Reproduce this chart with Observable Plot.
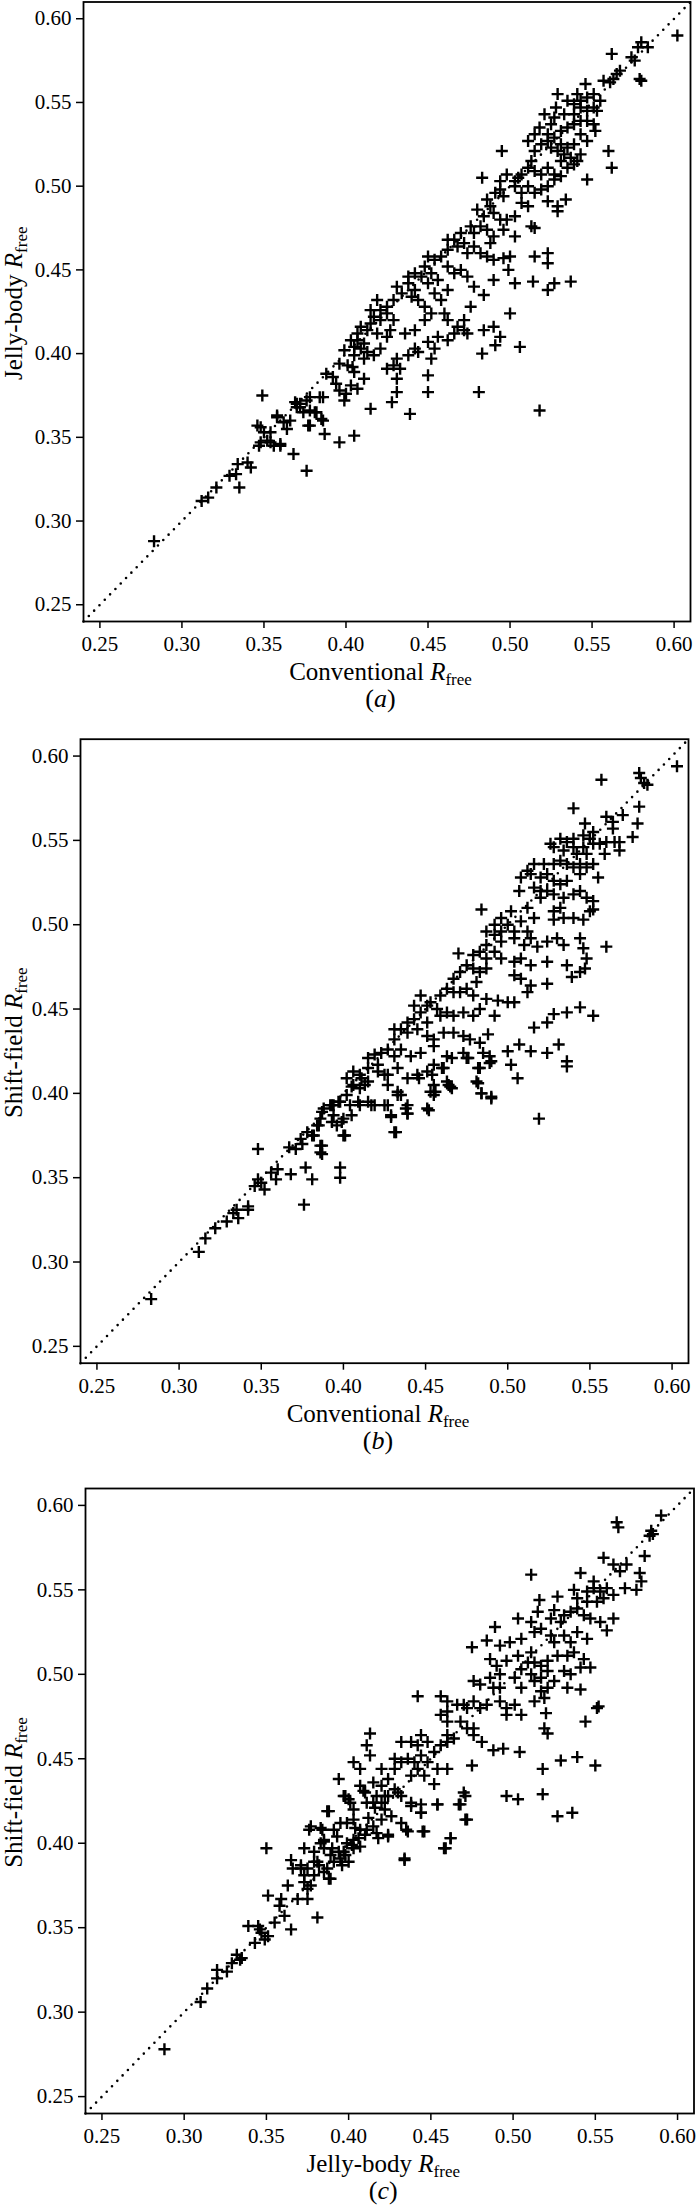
<!DOCTYPE html>
<html>
<head>
<meta charset="utf-8">
<script src="https://cdn.jsdelivr.net/npm/d3@7"></script>
<script src="https://cdn.jsdelivr.net/npm/@observablehq/plot@0.6"></script>
<style>
  html, body { margin: 0; padding: 0; background: #fff; }
  #chart { width: 696px; }
  #chart svg { display: block; }
</style>
</head>
<body>
<div id="chart"></div>
<script>
// ---- tick values ----
const tickValues = [0.25, 0.30, 0.35, 0.40, 0.45, 0.50, 0.55, 0.60];
const axisDomain = [0.24, 0.61];

// ---- panel (a): conventional vs jelly-body ----
const panelA = [
[0.602,0.590],[0.580,0.586],[0.584,0.583],[0.578,0.583],[0.562,0.579],[0.574,0.577],[0.576,0.575],[0.579,0.564],[0.580,0.563],[0.567,0.569],[0.565,0.567],[0.563,0.564],[0.561,0.562],[0.546,0.561],[0.557,0.563],[0.541,0.555],[0.543,0.551],[0.547,0.553],[0.551,0.555],[0.528,0.547],[0.527,0.541],[0.533,0.543],[0.539,0.543],[0.543,0.547],[0.547,0.545],[0.551,0.547],[0.553,0.545],[0.555,0.551],[0.518,0.535],[0.523,0.531],[0.527,0.529],[0.531,0.533],[0.535,0.535],[0.539,0.537],[0.543,0.539],[0.547,0.539],[0.551,0.537],[0.552,0.533],[0.495,0.521],[0.560,0.521],[0.562,0.511],[0.547,0.504],[0.483,0.505],[0.515,0.521],[0.519,0.525],[0.523,0.527],[0.525,0.523],[0.529,0.521],[0.533,0.519],[0.537,0.517],[0.543,0.519],[0.541,0.515],[0.513,0.515],[0.511,0.511],[0.507,0.507],[0.503,0.503],[0.505,0.505],[0.515,0.509],[0.519,0.507],[0.523,0.511],[0.527,0.507],[0.531,0.515],[0.535,0.511],[0.539,0.513],[0.491,0.496],[0.494,0.498],[0.496,0.494],[0.503,0.500],[0.507,0.496],[0.511,0.500],[0.515,0.496],[0.519,0.498],[0.523,0.500],[0.527,0.504],[0.531,0.506],[0.523,0.491],[0.529,0.488],[0.529,0.485],[0.534,0.492],[0.480,0.486],[0.484,0.482],[0.482,0.476],[0.486,0.474],[0.490,0.484],[0.494,0.480],[0.498,0.480],[0.503,0.482],[0.507,0.490],[0.511,0.488],[0.513,0.476],[0.515,0.475],[0.496,0.474],[0.503,0.470],[0.490,0.470],[0.488,0.466],[0.470,0.472],[0.472,0.466],[0.468,0.464],[0.462,0.462],[0.458,0.458],[0.474,0.460],[0.478,0.464],[0.482,0.460],[0.486,0.458],[0.490,0.456],[0.496,0.457],[0.500,0.458],[0.499,0.450],[0.515,0.458],[0.523,0.460],[0.523,0.454],[0.490,0.444],[0.503,0.442],[0.514,0.443],[0.523,0.438],[0.527,0.442],[0.537,0.443],[0.448,0.452],[0.452,0.448],[0.446,0.446],[0.450,0.442],[0.456,0.444],[0.462,0.452],[0.466,0.448],[0.470,0.450],[0.474,0.446],[0.478,0.440],[0.484,0.435],[0.438,0.442],[0.442,0.438],[0.440,0.434],[0.444,0.432],[0.434,0.436],[0.429,0.432],[0.425,0.428],[0.454,0.436],[0.458,0.432],[0.462,0.438],[0.448,0.428],[0.448,0.420],[0.452,0.424],[0.460,0.424],[0.462,0.420],[0.476,0.428],[0.472,0.420],[0.468,0.416],[0.500,0.424],[0.421,0.426],[0.417,0.422],[0.421,0.420],[0.425,0.424],[0.429,0.420],[0.427,0.414],[0.425,0.410],[0.419,0.412],[0.415,0.418],[0.413,0.414],[0.442,0.414],[0.436,0.412],[0.456,0.410],[0.462,0.408],[0.466,0.412],[0.472,0.414],[0.474,0.412],[0.484,0.414],[0.490,0.416],[0.494,0.410],[0.491,0.405],[0.483,0.400],[0.506,0.404],[0.450,0.407],[0.454,0.403],[0.452,0.397],[0.442,0.403],[0.444,0.401],[0.438,0.399],[0.431,0.397],[0.429,0.393],[0.433,0.391],[0.425,0.391],[0.403,0.408],[0.407,0.408],[0.411,0.406],[0.405,0.404],[0.409,0.403],[0.413,0.401],[0.417,0.399],[0.405,0.399],[0.411,0.397],[0.421,0.403],[0.401,0.393],[0.405,0.389],[0.403,0.381],[0.411,0.385],[0.407,0.379],[0.431,0.385],[0.431,0.377],[0.450,0.387],[0.450,0.377],[0.481,0.377],
[0.518,0.366],[0.415,0.367],[0.428,0.371],[0.439,0.364],[0.405,0.351],
[0.283,0.288],[0.312,0.312],[0.316,0.314],[0.321,0.320],[0.329,0.327],[0.333,0.328],[0.334,0.334],[0.335,0.320],[0.340,0.335],[0.342,0.332],[0.347,0.345],[0.352,0.348],[0.348,0.356],[0.354,0.353],[0.356,0.345],[0.360,0.345],[0.358,0.363],[0.362,0.359],[0.366,0.360],[0.368,0.340],[0.376,0.330],[0.377,0.357],[0.374,0.365],[0.381,0.365],[0.385,0.361],[0.387,0.352],[0.396,0.347],[0.370,0.370],[0.372,0.368],
[0.349,0.375],[0.346,0.357],[0.350,0.353],[0.348,0.347],[0.354,0.347],[0.360,0.346],[0.358,0.362],[0.364,0.355],[0.369,0.371],[0.372,0.370],[0.376,0.372],[0.370,0.368],[0.378,0.374],[0.384,0.374],[0.378,0.366],[0.382,0.365],[0.386,0.360],[0.378,0.357],[0.388,0.388],[0.392,0.386],[0.394,0.382],[0.396,0.394],[0.399,0.402],[0.396,0.378],[0.400,0.376],[0.399,0.372],[0.386,0.374],[0.404,0.392],
[0.529,0.555],[0.535,0.551],[0.539,0.549],[0.521,0.543],[0.525,0.537],[0.515,0.531],[0.511,0.527],[0.543,0.531],[0.547,0.527],[0.539,0.525],[0.531,0.525],[0.535,0.523],[0.498,0.507],[0.494,0.503],[0.486,0.492],[0.488,0.488],[0.476,0.476],[0.478,0.472],[0.466,0.468],[0.462,0.468],[0.454,0.456],[0.450,0.458],[0.442,0.448],[0.438,0.446],[0.431,0.440],[0.419,0.432],[0.415,0.426],[0.409,0.416],[0.407,0.412]
];

// ---- panel (b): conventional vs shift-field ----
const panelB = [
[0.603,0.594],[0.557,0.586],[0.580,0.590],[0.581,0.587],[0.583,0.584],[0.585,0.583],[0.540,0.569],[0.580,0.570],[0.547,0.560],[0.560,0.564],[0.564,0.561],[0.570,0.565],[0.579,0.560],[0.576,0.552],[0.568,0.544],[0.564,0.557],[0.568,0.549],[0.546,0.553],[0.550,0.551],[0.552,0.548],[0.556,0.548],[0.560,0.549],[0.546,0.546],[0.542,0.542],[0.548,0.542],[0.559,0.542],[0.565,0.549],[0.526,0.548],[0.536,0.549],[0.534,0.544],[0.540,0.546],[0.522,0.536],[0.528,0.536],[0.532,0.538],[0.536,0.536],[0.540,0.534],[0.544,0.536],[0.548,0.534],[0.552,0.536],[0.555,0.528],[0.514,0.530],[0.520,0.528],[0.524,0.530],[0.528,0.526],[0.532,0.524],[0.536,0.526],[0.544,0.530],[0.507,0.520],[0.516,0.522],[0.520,0.520],[0.524,0.520],[0.520,0.516],[0.528,0.518],[0.534,0.516],[0.540,0.518],[0.544,0.520],[0.548,0.516],[0.552,0.514],[0.552,0.509],[0.484,0.509],[0.502,0.508],[0.512,0.510],[0.516,0.504],[0.508,0.502],[0.500,0.500],[0.496,0.496],[0.504,0.496],[0.512,0.496],[0.514,0.492],[0.528,0.508],[0.532,0.510],[0.528,0.503],[0.534,0.504],[0.540,0.504],[0.546,0.503],[0.550,0.508],[0.560,0.487],[0.492,0.494],[0.487,0.488],[0.496,0.490],[0.504,0.492],[0.510,0.488],[0.518,0.487],[0.524,0.490],[0.530,0.492],[0.534,0.488],[0.544,0.492],[0.546,0.486],[0.470,0.483],[0.479,0.482],[0.483,0.484],[0.487,0.480],[0.492,0.484],[0.496,0.480],[0.504,0.478],[0.508,0.480],[0.514,0.476],[0.524,0.478],[0.536,0.476],[0.548,0.480],[0.547,0.474],[0.479,0.474],[0.483,0.472],[0.487,0.474],[0.481,0.466],[0.504,0.470],[0.508,0.468],[0.514,0.464],[0.524,0.465],[0.539,0.469],[0.544,0.472],[0.463,0.462],[0.467,0.460],[0.459,0.458],[0.471,0.460],[0.475,0.462],[0.479,0.458],[0.487,0.456],[0.494,0.455],[0.500,0.454],[0.504,0.454],[0.512,0.460],[0.447,0.458],[0.453,0.454],[0.457,0.450],[0.463,0.448],[0.447,0.448],[0.443,0.444],[0.451,0.442],[0.459,0.446],[0.467,0.446],[0.473,0.448],[0.479,0.446],[0.483,0.450],[0.492,0.446],[0.516,0.439],[0.524,0.442],[0.528,0.447],[0.536,0.448],[0.544,0.451],[0.552,0.446],[0.435,0.438],[0.439,0.436],[0.445,0.438],[0.451,0.434],[0.455,0.432],[0.461,0.436],[0.467,0.436],[0.473,0.434],[0.477,0.432],[0.483,0.430],[0.488,0.435],[0.431,0.432],[0.427,0.426],[0.423,0.424],[0.431,0.422],[0.435,0.426],[0.441,0.422],[0.447,0.424],[0.455,0.428],[0.463,0.422],[0.473,0.424],[0.475,0.421],[0.485,0.424],[0.489,0.422],[0.489,0.418],[0.483,0.415],[0.481,0.407],[0.484,0.400],[0.490,0.398],[0.500,0.425],[0.507,0.429],[0.514,0.425],[0.524,0.424],[0.531,0.429],[0.536,0.419],[0.536,0.416],[0.502,0.417],[0.506,0.409],[0.519,0.385],[0.415,0.415],[0.410,0.411],[0.415,0.407],[0.421,0.413],[0.427,0.411],[0.433,0.415],[0.439,0.409],[0.445,0.411],[0.451,0.413],[0.455,0.417],[0.461,0.415],[0.463,0.407],[0.455,0.405],[0.465,0.404],[0.453,0.401],[0.455,0.399],[0.433,0.401],[0.435,0.399],[0.406,0.405],[0.410,0.403],[0.402,0.399],[0.398,0.395],[0.394,0.393],[0.404,0.393],[0.410,0.393],[0.415,0.395],[0.419,0.393],[0.427,0.393],[0.429,0.387],[0.439,0.393],[0.439,0.388],[0.451,0.391],[0.432,0.377],[0.388,0.391],[0.392,0.393],[0.386,0.385],[0.394,0.387],[0.400,0.385],[0.396,0.381],[0.400,0.375],[0.384,0.381],[0.378,0.377],[0.374,0.373],[0.382,0.375],[0.386,0.369],[0.386,0.365],
[0.283,0.278],[0.312,0.306],[0.316,0.314],[0.322,0.320],[0.329,0.324],[0.335,0.331],[0.336,0.326],[0.342,0.333],[0.342,0.331],[0.333,0.329],[0.348,0.367],[0.348,0.349],[0.346,0.345],[0.352,0.343],[0.350,0.347],[0.356,0.353],[0.360,0.355],[0.359,0.349],[0.368,0.352],[0.376,0.334],[0.377,0.356],[0.381,0.349],[0.398,0.356],[0.398,0.350],[0.367,0.368],[0.371,0.367],[0.375,0.370],[0.381,0.375],[0.385,0.381],[0.387,0.369],[0.387,0.364],[0.387,0.389],[0.393,0.393],[0.397,0.395],[0.399,0.383],[0.401,0.375],[0.393,0.383],[0.405,0.387],[0.405,0.404],[0.411,0.409],[0.413,0.405],[0.417,0.393],[0.409,0.395],[0.421,0.417],[0.425,0.411],[0.427,0.405],[0.425,0.393],[0.429,0.386],[0.431,0.377],[0.433,0.399],[0.438,0.391],[0.439,0.388],[0.452,0.390],[0.446,0.409],[0.454,0.411],[0.460,0.415],[0.456,0.401],[0.464,0.405],[0.466,0.403],[0.482,0.415],[0.490,0.419],[0.482,0.406],[0.484,0.400],[0.490,0.397],[0.476,0.421],[0.466,0.421],
[0.496,0.504],[0.492,0.500],[0.487,0.496],[0.471,0.472],[0.467,0.468],[0.475,0.476],[0.451,0.452],[0.443,0.452],[0.439,0.442],[0.431,0.438],[0.419,0.423],[0.415,0.421],[0.406,0.413],[0.402,0.409],[0.516,0.536],[0.512,0.532],[0.508,0.528],[0.528,0.546],[0.532,0.551],[0.540,0.551],[0.552,0.555]
];

// ---- panel (c): jelly-body vs shift-field ----
const panelC = [
[0.563,0.590],[0.564,0.587],[0.590,0.594],[0.584,0.585],[0.585,0.583],[0.583,0.582],[0.580,0.570],[0.555,0.569],[0.561,0.565],[0.569,0.565],[0.565,0.561],[0.577,0.560],[0.578,0.555],[0.568,0.551],[0.575,0.550],[0.511,0.559],[0.541,0.560],[0.516,0.544],[0.527,0.546],[0.537,0.550],[0.539,0.545],[0.549,0.551],[0.553,0.549],[0.557,0.551],[0.555,0.545],[0.561,0.547],[0.551,0.543],[0.545,0.543],[0.515,0.537],[0.525,0.538],[0.531,0.535],[0.535,0.537],[0.539,0.539],[0.543,0.535],[0.547,0.533],[0.553,0.531],[0.561,0.533],[0.557,0.526],[0.503,0.533],[0.511,0.531],[0.489,0.528],[0.475,0.516],[0.484,0.520],[0.492,0.517],[0.498,0.519],[0.505,0.521],[0.513,0.525],[0.517,0.527],[0.523,0.523],[0.525,0.519],[0.531,0.523],[0.535,0.519],[0.539,0.525],[0.545,0.521],[0.486,0.509],[0.490,0.505],[0.496,0.508],[0.503,0.511],[0.511,0.513],[0.513,0.507],[0.517,0.505],[0.521,0.508],[0.527,0.511],[0.533,0.511],[0.537,0.513],[0.543,0.509],[0.547,0.504],[0.541,0.504],[0.476,0.496],[0.480,0.494],[0.486,0.498],[0.492,0.492],[0.501,0.498],[0.505,0.492],[0.511,0.500],[0.513,0.496],[0.517,0.498],[0.521,0.502],[0.525,0.496],[0.531,0.502],[0.535,0.500],[0.533,0.492],[0.541,0.491],[0.517,0.490],[0.521,0.492],[0.442,0.487],[0.456,0.487],[0.460,0.484],[0.466,0.482],[0.470,0.482],[0.476,0.484],[0.480,0.480],[0.484,0.482],[0.492,0.484],[0.496,0.480],[0.501,0.482],[0.505,0.476],[0.513,0.484],[0.519,0.486],[0.551,0.480],[0.552,0.481],[0.544,0.472],[0.520,0.477],[0.519,0.468],[0.521,0.465],[0.460,0.478],[0.468,0.472],[0.460,0.472],[0.472,0.468],[0.476,0.468],[0.460,0.464],[0.464,0.462],[0.476,0.464],[0.496,0.476],[0.413,0.465],[0.411,0.458],[0.413,0.452],[0.403,0.448],[0.407,0.444],[0.420,0.444],[0.428,0.450],[0.432,0.460],[0.438,0.460],[0.442,0.458],[0.436,0.450],[0.440,0.448],[0.444,0.452],[0.448,0.448],[0.452,0.454],[0.456,0.458],[0.460,0.460],[0.438,0.440],[0.442,0.444],[0.446,0.440],[0.454,0.444],[0.460,0.444],[0.452,0.435],[0.481,0.460],[0.488,0.455],[0.494,0.456],[0.504,0.454],[0.475,0.446],[0.518,0.444],[0.529,0.449],[0.539,0.451],[0.550,0.446],[0.470,0.430],[0.468,0.423],[0.454,0.423],[0.496,0.428],[0.503,0.426],[0.518,0.429],[0.527,0.416],[0.536,0.418],[0.471,0.414],[0.394,0.438],[0.397,0.428],[0.401,0.424],[0.407,0.434],[0.409,0.431],[0.415,0.436],[0.420,0.434],[0.424,0.438],[0.428,0.432],[0.432,0.428],[0.438,0.422],[0.444,0.418],[0.444,0.423],[0.387,0.419],[0.411,0.424],[0.417,0.428],[0.422,0.420],[0.426,0.416],[0.420,0.414],[0.415,0.410],[0.377,0.410],[0.383,0.409],[0.391,0.408],[0.399,0.412],[0.403,0.414],[0.407,0.408],[0.411,0.408],[0.385,0.402],[0.393,0.404],[0.399,0.400],[0.403,0.402],[0.407,0.398],[0.417,0.406],[0.424,0.404],[0.436,0.407],[0.446,0.407],[0.432,0.412],[0.462,0.403],[0.459,0.397],[0.434,0.391],[0.373,0.397],[0.379,0.395],[0.385,0.397],[0.389,0.393],[0.391,0.389],[0.395,0.391],[0.397,0.395],[0.403,0.397],[0.371,0.387],[0.375,0.385],[0.381,0.389],[0.387,0.385],[0.389,0.379],[0.379,0.381],[0.373,0.377],[0.375,0.373],
[0.288,0.278],[0.310,0.306],[0.314,0.314],[0.320,0.320],[0.320,0.325],[0.326,0.324],[0.329,0.329],[0.332,0.334],[0.334,0.331],[0.335,0.332],[0.339,0.351],[0.345,0.351],[0.347,0.347],[0.349,0.343],[0.343,0.341],[0.351,0.345],[0.346,0.349],[0.350,0.397],[0.351,0.369],[0.359,0.367],[0.358,0.363],[0.361,0.357],[0.355,0.353],[0.365,0.349],[0.363,0.375],[0.369,0.367],[0.375,0.367],[0.365,0.390],[0.366,0.385],[0.371,0.385],[0.373,0.381],[0.377,0.375],[0.382,0.387],[0.385,0.383],[0.388,0.379],[0.381,0.356],[0.376,0.408],[0.384,0.408],[0.388,0.419],[0.400,0.426],[0.385,0.401],[0.390,0.397],[0.394,0.395],[0.398,0.393],[0.402,0.399],[0.396,0.387],[0.400,0.389],[0.404,0.409],[0.406,0.403],[0.410,0.405],[0.412,0.415],[0.416,0.421],[0.420,0.424],[0.424,0.405],[0.418,0.403],[0.434,0.390],[0.435,0.408],[0.445,0.407],[0.444,0.418],[0.454,0.423],[0.467,0.423],[0.471,0.428],[0.472,0.414],[0.458,0.397],[0.462,0.403],[0.410,0.430],[0.398,0.428],[0.422,0.428],[0.430,0.430],[0.438,0.424],
[0.549,0.555],[0.545,0.549],[0.529,0.531],[0.523,0.533],[0.509,0.507],[0.505,0.503],[0.492,0.500],[0.488,0.492],[0.472,0.480],[0.456,0.476],[0.448,0.460],[0.444,0.464],[0.432,0.448],[0.428,0.444],[0.424,0.428],[0.415,0.424],[0.403,0.420],[0.395,0.412],[0.383,0.400],[0.379,0.389]
];

// ---- axis label words ----
const labelConventional = "Conventional";
const labelJelly = "Jelly-body";
const labelShift = "Shift-field";

const panels = [
  { data: panelA, xWord: labelConventional, yWord: labelJelly, tag: "a",
    height: 737, marginTop: 1.5, marginBottom: 116, marginLeft: 83, marginRight: 6 },
  { data: panelB, xWord: labelConventional, yWord: labelShift, tag: "b",
    height: 737, marginTop: 1.7, marginBottom: 111.3, marginLeft: 80, marginRight: 8 },
  { data: panelC, xWord: labelJelly, yWord: labelShift, tag: "c",
    height: 735, marginTop: 14, marginBottom: 96, marginLeft: 85, marginRight: 2.5 }
];

// thin stroked "+" marker
const plusSymbol = {
  draw(context, size) {
    const r = Math.sqrt(size / Math.PI);
    context.moveTo(-r, 0); context.lineTo(r, 0);
    context.moveTo(0, -r); context.lineTo(0, r);
  }
};

const FONT = "'Liberation Serif', 'Times New Roman', serif";
const container = document.getElementById("chart");

function addRLabel(g, word, x, y, rotate) {
  const t = g.append("text")
    .attr("text-anchor", "middle")
    .attr("font-size", 25)
    .attr("font-family", FONT)
    .attr("fill", "black")
    .attr("transform", rotate ? `translate(${x},${y}) rotate(-90)` : `translate(${x},${y})`);
  t.append("tspan").text(word + " ");
  t.append("tspan").attr("font-style", "italic").text("R");
  t.append("tspan").attr("font-size", 17).attr("dy", 5).text("free");
}

for (const p of panels) {
  const diag = [[axisDomain[0], axisDomain[0]], [axisDomain[1], axisDomain[1]]];
  const svg = Plot.plot({
    width: 696,
    height: p.height,
    marginTop: p.marginTop,
    marginBottom: p.marginBottom,
    marginLeft: p.marginLeft,
    marginRight: p.marginRight,
    style: { fontFamily: FONT, fontSize: "21px", color: "black", background: "white" },
    x: { domain: axisDomain },
    y: { domain: axisDomain },
    marks: [
      Plot.line(diag, { x: d => d[0], y: d => d[1], stroke: "black", strokeWidth: 2.6,
        strokeDasharray: "0,7.6", strokeLinecap: "round" }),
      Plot.dot(p.data, { x: d => d[0], y: d => d[1], symbol: plusSymbol, r: 6,
        stroke: "black", strokeWidth: 2.4, fill: "none" }),
      Plot.axisX({ ticks: tickValues, tickFormat: d => d.toFixed(2), tickSize: 7, tickPadding: 8,
        strokeWidth: 1.5, label: null }),
      Plot.axisY({ ticks: tickValues, tickFormat: d => d.toFixed(2), tickSize: 7, tickPadding: 5,
        strokeWidth: 1.5, label: null }),
      Plot.frame({ stroke: "black", strokeWidth: 1.8 })
    ]
  });
  const g = d3.select(svg);
  const frameBottom = p.height - p.marginBottom;
  const cx = (p.marginLeft + (696 - p.marginRight)) / 2 - 6;
  const cy = (p.marginTop + frameBottom) / 2 - 8;
  addRLabel(g, p.xWord, cx, frameBottom + 59, false);
  addRLabel(g, p.yWord, 22, cy, true);
  const tag = g.append("text")
    .attr("text-anchor", "middle")
    .attr("font-size", 26)
    .attr("font-family", FONT)
    .attr("fill", "black")
    .attr("x", cx).attr("y", frameBottom + 86);
  tag.append("tspan").text("(");
  tag.append("tspan").attr("font-style", "italic").text(p.tag);
  tag.append("tspan").text(")");
  container.appendChild(svg);
}
</script>
</body>
</html>
